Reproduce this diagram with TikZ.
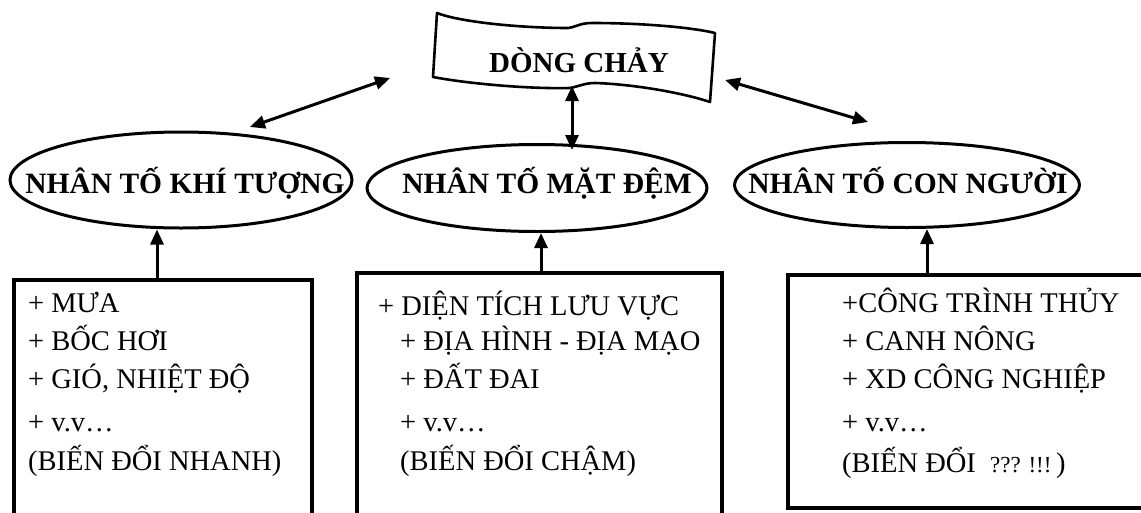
\documentclass[tikz,border=0pt]{standalone}
\usepackage{fontspec}
\setmainfont{Liberation Serif}
\usetikzlibrary{shapes.geometric,arrows.meta,calc}
\begin{document}
\begin{tikzpicture}[x=1pt,y=-1pt,
  oval/.style={draw,ellipse,line width=3pt,inner sep=0pt},
  boxed/.style={draw,line width=3.5pt,rectangle,inner sep=0pt},
  itemtxt/.style={anchor=base west,inner sep=0pt,font=\fontsize{28.5}{30}\selectfont},
  headtxt/.style={anchor=base,inner sep=0pt,font=\fontsize{29.5}{30}\selectfont\bfseries},
  link/.style={line width=3pt,{Triangle[length=15pt,width=13pt]}-{Triangle[length=15pt,width=13pt]}},
  uplink/.style={line width=3pt,-{Triangle[length=15pt,width=13pt]}},
  banner/.style={line width=2.6pt,line join=round}]
\useasboundingbox (0,0) rectangle (1141,512);
\clip (0,0) rectangle (1141,512);

% banner
\draw[banner] (437,13) .. controls (460,22) and (520,28) .. (568,28)
  .. controls (576,27) and (580,23) .. (592,23)
  .. controls (640,23) and (690,27) .. (715,33)
  -- (710,102)
  .. controls (680,92) and (630,84) .. (595,83)
  .. controls (585,83) and (580,86) .. (570,88)
  .. controls (530,89) and (470,84) .. (433,77) -- cycle;
\node[headtxt,font=\fontsize{29}{30}\selectfont\bfseries] (dc) at (579,72) {DÒNG CHẢY};

% ellipses
\node[oval,minimum width=342pt,minimum height=96pt] (e1) at (181,180) {};
\node[oval,minimum width=340pt,minimum height=87pt] (e2) at (537,188) {};
\node[oval,minimum width=345pt,minimum height=85pt] (e3) at (907,185) {};
\node[headtxt] (t1) at (185,193) {NHÂN TỐ KHÍ TƯỢNG};
\node[headtxt] (t2) at (547,193) {NHÂN TỐ MẶT ĐỆM};
\node[headtxt] (t3) at (908,193) {NHÂN TỐ CON NGƯỜI};

% boxes
\node[boxed,minimum width=298pt,minimum height=270pt] (b1) at (163,415) {};
\node[boxed,minimum width=365pt,minimum height=277pt] (b2) at (539.5,411.5) {};
\node[boxed,minimum width=372pt,minimum height=233pt] (b3) at (974,391.5) {};

% box texts
\node[itemtxt] (a1) at (28,312) {+ MƯA};
\node[itemtxt] (a2) at (28,350) {+ BỐC HƠI};
\node[itemtxt] (a3) at (28,388) {+ GIÓ, NHIỆT ĐỘ};
\node[itemtxt] (a4) at (28,431) {+ v.v…};
\node[itemtxt] (a5) at (28,470) {(BIẾN ĐỔI NHANH)};

\node[itemtxt] (m1) at (378,315) {+ DIỆN TÍCH LƯU VỰC};
\node[itemtxt] (m2) at (400,350) {+ ĐỊA HÌNH - ĐỊA MẠO};
\node[itemtxt] (m3) at (400,388) {+ ĐẤT ĐAI};
\node[itemtxt] (m4) at (400,431) {+ v.v…};
\node[itemtxt] (m5) at (400,470) {(BIẾN ĐỔI CHẬM)};

\node[itemtxt] (r1) at (842,312) {+CÔNG TRÌNH THỦY};
\node[itemtxt] (r2) at (842,350) {+ CANH NÔNG};
\node[itemtxt] (r3) at (842,388) {+ XD CÔNG NGHIỆP};
\node[itemtxt] (r4) at (842,431) {+ v.v…};
\node[itemtxt] (r5) at (842,472) {(BIẾN ĐỔI\ \ {\fontsize{23}{23}\selectfont ??? !!!}\,)};

% connectors
\draw[link] ($(e1.center)+(69,-53)$) -- ($(dc.base)+(-189,6)$);
\draw[link] ($(e2.center)+(35,-38)$) -- ($(dc.base)+(-7,14)$);
\draw[link] ($(dc.base)+(146,8)$) -- ($(e3.center)+(-39,-63)$);

\draw[uplink] ($(b1.north)+(-6,0)$) -- ($(e1.south)+(-24,0)$);
\draw[uplink] ($(b2.north)+(1.5,0)$) -- ($(e2.south)+(4,0)$);
\draw[uplink] ($(b3.north)+(-47,0)$) -- ($(e3.south)+(20,0)$);
\end{tikzpicture}
\end{document}
